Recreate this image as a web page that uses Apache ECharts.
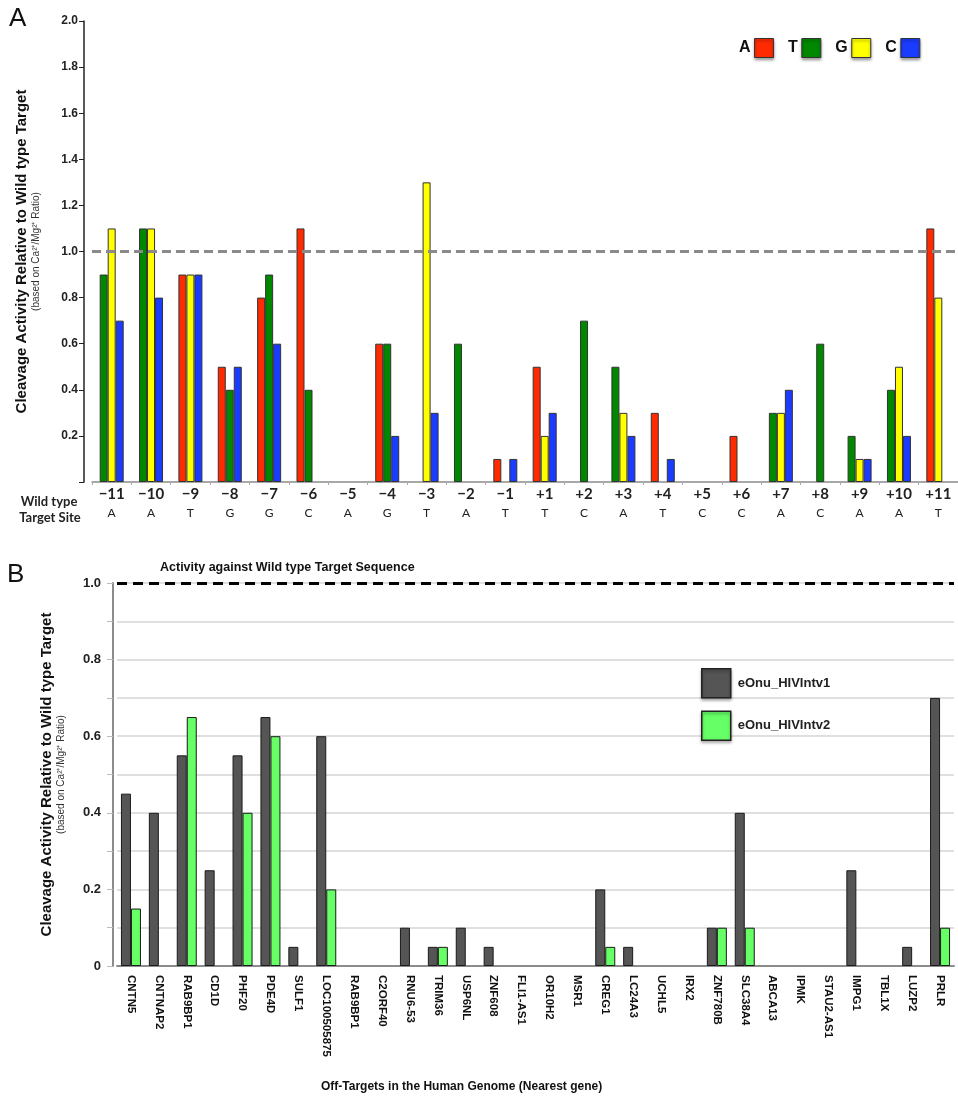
<!DOCTYPE html>
<html>
<head>
<meta charset="utf-8">
<script src="https://cdn.jsdelivr.net/npm/echarts@6/dist/echarts.min.js"></script>
<style>
  html, body { margin: 0; padding: 0; background: #fff; }
  #chart { width: 958px; height: 1096px; }
</style>
</head>
<body>
<div id="chart"></div>
<script>
// Panel A: target site positions and wild type base at each
const positions = ['−11', '−10', '−9', '−8', '−7', '−6', '−5', '−4', '−3', '−2', '−1',
  '+1', '+2', '+3', '+4', '+5', '+6', '+7', '+8', '+9', '+10', '+11'];
const wildType = ['A', 'A', 'T', 'G', 'G', 'C', 'A', 'G', 'T', 'A', 'T',
  'T', 'C', 'A', 'T', 'C', 'C', 'A', 'C', 'A', 'A', 'T'];
// activity for each substituted base (null = wild type base itself)
const baseA = [null, null, 0.9, 0.5, 0.8, 1.1, null, 0.6, 0, null, 0.1,
  0.5, 0, null, 0.3, 0, 0.2, null, 0, null, null, 1.1];
const baseT = [0.9, 1.1, null, 0.4, 0.9, 0.4, 0, 0.6, null, 0.6, null,
  null, 0.7, 0.5, null, 0, 0, 0.3, 0.6, 0.2, 0.4, null];
const baseG = [1.1, 1.1, 0.9, null, null, 0, 0, null, 1.3, 0, 0,
  0.2, 0, 0.3, 0, 0, 0, 0.3, 0, 0.1, 0.5, 0.8];
const baseC = [0.7, 0.8, 0.9, 0.5, 0.6, null, 0, 0.2, 0.3, 0, 0.1,
  0.3, null, 0.2, 0.1, null, null, 0.4, null, 0.1, 0.2, null];
const baseColors = { A: '#ff2a00', T: '#008800', G: '#ffff00', C: '#1a3cff' };

// Panel B: off-target genes
const genes = ['CNTN5', 'CNTNAP2', 'RAB9BP1', 'CD1D', 'PHF20', 'PDE4D', 'SULF1', 'LOC100505875',
  'RAB9BP1', 'C2ORF40', 'RNU6-53', 'TRIM36', 'USP6NL', 'ZNF608', 'FLI1-AS1', 'OR10H2', 'MSR1',
  'CREG1', 'LC24A3', 'UCHL5', 'IRX2', 'ZNF780B', 'SLC38A4', 'ABCA13', 'IPMK', 'STAU2-AS1',
  'IMPG1', 'TBL1X', 'LUZP2', 'PRLR'];
const intv1 = [0.45, 0.4, 0.55, 0.25, 0.55, 0.65, 0.05, 0.6, 0, 0, 0.1, 0.05, 0.1, 0.05, 0, 0, 0,
  0.2, 0.05, 0, 0, 0.1, 0.4, 0, 0, 0, 0.25, 0, 0.05, 0.7];
const intv2 = [0.15, 0, 0.65, 0, 0.4, 0.6, 0, 0.2, 0, 0, 0, 0.05, 0, 0, 0, 0, 0,
  0.05, 0, 0, 0, 0.1, 0.1, 0, 0, 0, 0, 0, 0, 0.1];

const titleA = 'Cleavage Activity Relative to Wild type Target';
const subA = '(based on Ca²⁺/Mg²⁺ Ratio)';

// zero height bars get no outline
const noEdge = v => (v === 0 ? { borderWidth: 0 } : {});

// three bars per position: the non wild type bases in A,T,G,C order
const baseVals = { A: baseA, T: baseT, G: baseG, C: baseC };
const slots = [[], [], []];
positions.forEach((p, i) => {
  const subs = ['A', 'T', 'G', 'C'].filter(b => b !== wildType[i]);
  subs.forEach((b, k) => {
    const v = baseVals[b][i];
    slots[k].push({ value: v, itemStyle: Object.assign({ color: baseColors[b] }, noEdge(v)) });
  });
});

const chart = echarts.init(document.getElementById('chart'));
const font = '"Liberation Sans", Arial, sans-serif';
const lato = 'Lato, "Open Sans", sans-serif';

const slotSeries = slots.map((d, k) => ({
  name: 'slot' + k,
  type: 'bar',
  xAxisIndex: 0,
  yAxisIndex: 0,
  barWidth: 8,
  barGap: 0,
  itemStyle: { borderColor: '#333', borderWidth: 1 },
  data: d,
  markLine: k === 0 ? {
    silent: true,
    symbol: 'none',
    label: { show: false },
    lineStyle: { color: '#8a8a8a', type: [9, 5], width: 3 },
    data: [{ yAxis: 1.0 }]
  } : undefined
}));

const legendSeries = ['A', 'T', 'G', 'C'].map(b => ({
  name: b,
  type: 'line',
  xAxisIndex: 0,
  yAxisIndex: 0,
  data: [],
  color: baseColors[b],
  itemStyle: { color: baseColors[b] }
}));

const option = {
  animation: false,
  backgroundColor: '#fff',
  textStyle: { fontFamily: font },
  grid: [
    { left: 92, right: -14, top: 21, bottom: 614 },
    { left: 117, right: 4, top: 583, bottom: 130 }
  ],
  legend: [
    {
      data: ['A', 'T', 'G', 'C'],
      left: 734, top: 33,
      icon: 'rect',
      align: 'right',
      itemWidth: 19, itemHeight: 19, itemGap: 14,
      itemStyle: { borderColor: '#333', borderWidth: 1, shadowBlur: 3, shadowColor: 'rgba(0,0,0,0.4)', shadowOffsetY: 2 },
      textStyle: { fontSize: 16, fontWeight: 'bold', color: '#111', fontFamily: font, padding: [0, -1, 0, 0] }
    },
    {
      data: ['eOnu_HIVIntv1', 'eOnu_HIVIntv2'],
      orient: 'vertical',
      left: 696, top: 663,
      icon: 'rect',
      itemWidth: 29, itemHeight: 29, itemGap: 12,
      itemStyle: { borderColor: '#222', borderWidth: 1.5, shadowBlur: 3, shadowColor: 'rgba(0,0,0,0.35)', shadowOffsetY: 2 },
      textStyle: { fontSize: 13, fontWeight: 'bold', color: '#222', fontFamily: font, padding: [0, 0, 0, 2] }
    }
  ],
  xAxis: [
    {
      type: 'category',
      gridIndex: 0,
      data: positions,
      axisLine: { lineStyle: { color: '#8c8c8c', width: 1.5 } },
      axisTick: { show: true, length: 3, lineStyle: { color: '#aaa' } },
      axisLabel: {
        interval: 0,
        margin: 3,
        formatter: (v, i) => '{p|' + v + '}\n{w|' + wildType[i] + '}',
        rich: {
          p: { fontFamily: lato, fontWeight: 'bold', fontSize: 15, color: '#222', lineHeight: 19 },
          w: { fontFamily: lato, fontSize: 12, color: '#222', lineHeight: 19 }
        }
      }
    },
    {
      type: 'category',
      gridIndex: 1,
      data: genes,
      axisLine: { lineStyle: { color: '#8c8c8c', width: 2 } },
      axisTick: { show: false },
      axisLabel: {
        interval: 0,
        rotate: -90,
        margin: 9,
        fontFamily: font,
        fontWeight: 'bold',
        fontSize: 11.5,
        color: '#111'
      }
    }
  ],
  yAxis: [
    {
      type: 'value',
      gridIndex: 0,
      min: 0, max: 2.0, interval: 0.2,
      offset: 8,
      axisLine: { show: true, lineStyle: { color: '#222', width: 1.5 } },
      axisTick: { show: true, length: 5, lineStyle: { color: '#222' } },
      splitLine: { show: false },
      axisLabel: {
        margin: 6,
        fontFamily: font, fontWeight: 'bold', fontSize: 12, color: '#222',
        formatter: v => (v === 0 ? '' : v.toFixed(1))
      },
      name: '{t|' + titleA + '}\n{s|' + subA + '}',
      nameLocation: 'middle',
      nameRotate: 90,
      nameGap: 42,
      nameTextStyle: {
        rich: {
          t: { fontFamily: font, fontWeight: 'bold', fontSize: 15, color: '#111', lineHeight: 17 },
          s: { fontFamily: font, fontSize: 10, color: '#333', lineHeight: 12 }
        }
      }
    },
    {
      type: 'value',
      gridIndex: 1,
      min: 0, max: 1.0, interval: 0.1,
      offset: 4,
      axisLine: { show: true, lineStyle: { color: '#8c8c8c', width: 2 } },
      axisTick: { show: true, length: 6, lineStyle: { color: '#bbb' } },
      splitLine: { show: true, lineStyle: { color: '#d4d4d4', width: 1.5 } },
      axisLabel: {
        margin: 12,
        fontFamily: font, fontWeight: 'bold', fontSize: 13, color: '#222',
        formatter: v => {
          const r = Math.round(v * 10);
          if (r === 0) return '0';
          return r % 2 === 0 ? (r / 10).toFixed(1) : '';
        }
      },
      name: '{t|' + titleA + '}\n{s|' + subA + '}',
      nameLocation: 'middle',
      nameRotate: 90,
      nameGap: 46,
      nameTextStyle: {
        rich: {
          t: { fontFamily: font, fontWeight: 'bold', fontSize: 15, color: '#111', lineHeight: 17 },
          s: { fontFamily: font, fontSize: 10, color: '#333', lineHeight: 12 }
        }
      }
    }
  ],
  graphic: [
    { type: 'text', left: 9, top: 6, style: { text: 'A', font: '26px ' + font, fill: '#111' } },
    { type: 'text', left: 7, top: 562, style: { text: 'B', font: '26px ' + font, fill: '#111' } },
    { type: 'text', style: { x: 49, y: 502, text: 'Wild type', textAlign: 'center', textVerticalAlign: 'middle', font: 'bold 13px ' + lato, fill: '#222' } },
    { type: 'text', style: { x: 50, y: 518, text: 'Target Site', textAlign: 'center', textVerticalAlign: 'middle', font: 'bold 13px ' + lato, fill: '#222' } },
    { type: 'text', left: 160, top: 561, style: { text: 'Activity against Wild type Target Sequence', font: 'bold 12.5px ' + font, fill: '#111' } },
    { type: 'text', left: 321, top: 1081, style: { text: 'Off-Targets in the Human Genome (Nearest gene)', font: 'bold 12px ' + font, fill: '#111' } }
  ],
  series: slotSeries.concat(legendSeries).concat([
    {
      name: 'eOnu_HIVIntv1',
      type: 'bar',
      xAxisIndex: 1,
      yAxisIndex: 1,
      barWidth: 10,
      barGap: 0,
      itemStyle: { color: '#555555', borderColor: '#1a1a1a', borderWidth: 1 },
      data: intv1.map(v => ({ value: v, itemStyle: noEdge(v) })),
      markLine: {
        silent: true,
        symbol: 'none',
        label: { show: false },
        lineStyle: { color: '#000', type: [10, 6], width: 3 },
        data: [{ yAxis: 1.0 }]
      }
    },
    {
      name: 'eOnu_HIVIntv2',
      type: 'bar',
      xAxisIndex: 1,
      yAxisIndex: 1,
      barWidth: 10,
      barGap: 0,
      itemStyle: { color: '#66ff66', borderColor: '#1a1a1a', borderWidth: 1 },
      data: intv2.map(v => ({ value: v, itemStyle: noEdge(v) }))
    }
  ])
};

chart.setOption(option);
</script>
</body>
</html>
